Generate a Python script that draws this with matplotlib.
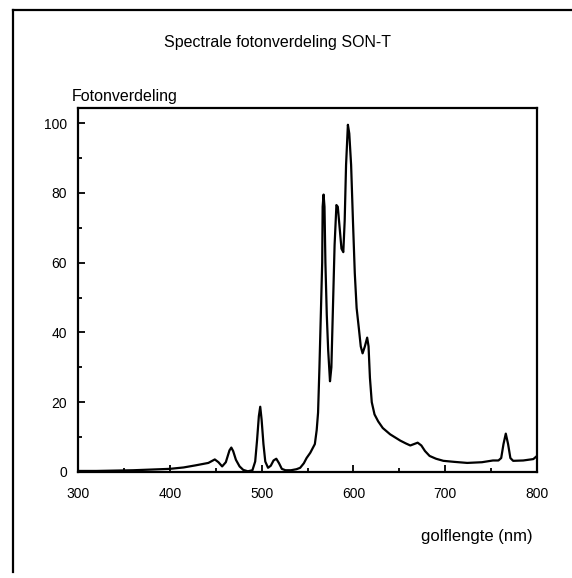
import matplotlib
matplotlib.use("Agg")
import matplotlib.pyplot as plt
from matplotlib.lines import Line2D
from matplotlib.ticker import MultipleLocator

plt.rcParams["font.family"] = ["Liberation Sans", "DejaVu Sans"]

# golflengte (nm) and fotonverdeling
wavelength = [300, 320, 340, 360, 380, 400, 415, 428, 436, 442, 449, 453, 457,
              461, 465, 467, 469, 472, 476, 480, 485, 490, 493, 495, 497, 498.5,
              500, 502, 504, 507, 510, 513, 516, 519, 522, 526, 532, 538, 542,
              546, 549, 553, 558, 560, 561.5, 563, 564.5, 566, 566.5, 567.5,
              568.5, 569.5, 571, 572.5, 574.5, 576, 577.5, 579.5, 581.5, 583,
              585, 587, 589, 590.5, 592, 594, 595.5, 597.5, 599.5, 601.5, 603.5,
              606, 608, 610, 612.5, 615, 616.5, 618, 620, 623, 627, 632, 640,
              651, 657, 662, 666, 670, 674, 678, 683, 690, 698, 710, 724, 740,
              752, 758, 761, 763.5, 766, 768.5, 771, 774, 785, 796, 800]
photons = [0.3, 0.3, 0.4, 0.5, 0.7, 0.9, 1.3, 1.9, 2.3, 2.6, 3.6, 2.8, 1.6,
           2.8, 6.2, 7.0, 6.0, 3.5, 1.6, 0.6, 0.2, 0.5, 3, 9, 16, 18.7,
           15, 8, 3, 1.2, 1.8, 3.3, 3.8, 2.5, 0.9, 0.5, 0.5, 0.8, 1.2,
           2.5, 4, 5.5, 8, 12, 17, 30, 45, 60, 76, 79.5,
           76, 60, 45, 35, 26, 30, 45, 65, 76.5, 76,
           70, 64, 63, 72, 88, 99.5, 97, 88, 72, 57, 47,
           41, 36, 34, 36, 38.5, 36, 27, 20, 16.5, 14.5, 12.6, 10.8,
           9, 8.2, 7.6, 8, 8.4, 7.6, 6, 4.6, 3.8, 3.2, 2.9, 2.6, 2.8,
           3.3, 3.3, 4, 8, 11, 8, 4, 3.2, 3.3, 3.7, 4.6]

fig = plt.figure(figsize=(5.72, 5.78), dpi=100)
ax = fig.add_axes([0.1364, 0.1834, 0.8024, 0.6297])

ax.plot(wavelength, photons, color="black", linewidth=1.6)

ax.set_xlim(300, 800)
ax.set_ylim(0, 104.3)
ax.xaxis.set_major_locator(MultipleLocator(100))
ax.xaxis.set_minor_locator(MultipleLocator(50))
ax.yaxis.set_major_locator(MultipleLocator(20))
ax.yaxis.set_minor_locator(MultipleLocator(10))
ax.tick_params(which="both", direction="in", top=False, right=False,
               width=1.3, labelsize=10, colors="black")
ax.tick_params(which="major", length=5)
ax.tick_params(which="minor", length=3)
ax.tick_params(axis="x", which="major", pad=11)
ax.tick_params(axis="y", which="major", pad=8)
for s in ax.spines.values():
    s.set_linewidth(1.6)

fig.text(278 / 572, 1 - 43 / 578, "Spectrale fotonverdeling SON-T",
         ha="center", va="center", fontsize=11.5)
fig.text(72 / 572, 1 - 101 / 578, "Fotonverdeling",
         ha="left", va="baseline", fontsize=11.5)
fig.text(533 / 572, 1 - 537 / 578, "golflengte (nm)",
         ha="right", va="center", fontsize=12)

# outer frame of the scanned page (left and top edges only)
fig.add_artist(Line2D([13 / 572, 13 / 572], [1 - 572 / 578, 1 - 10 / 578],
                      color="black", linewidth=1.6, transform=fig.transFigure))
fig.add_artist(Line2D([13 / 572, 1.0], [1 - 10 / 578, 1 - 10 / 578],
                      color="black", linewidth=1.6, transform=fig.transFigure))

fig.savefig("out.png", dpi=100)
